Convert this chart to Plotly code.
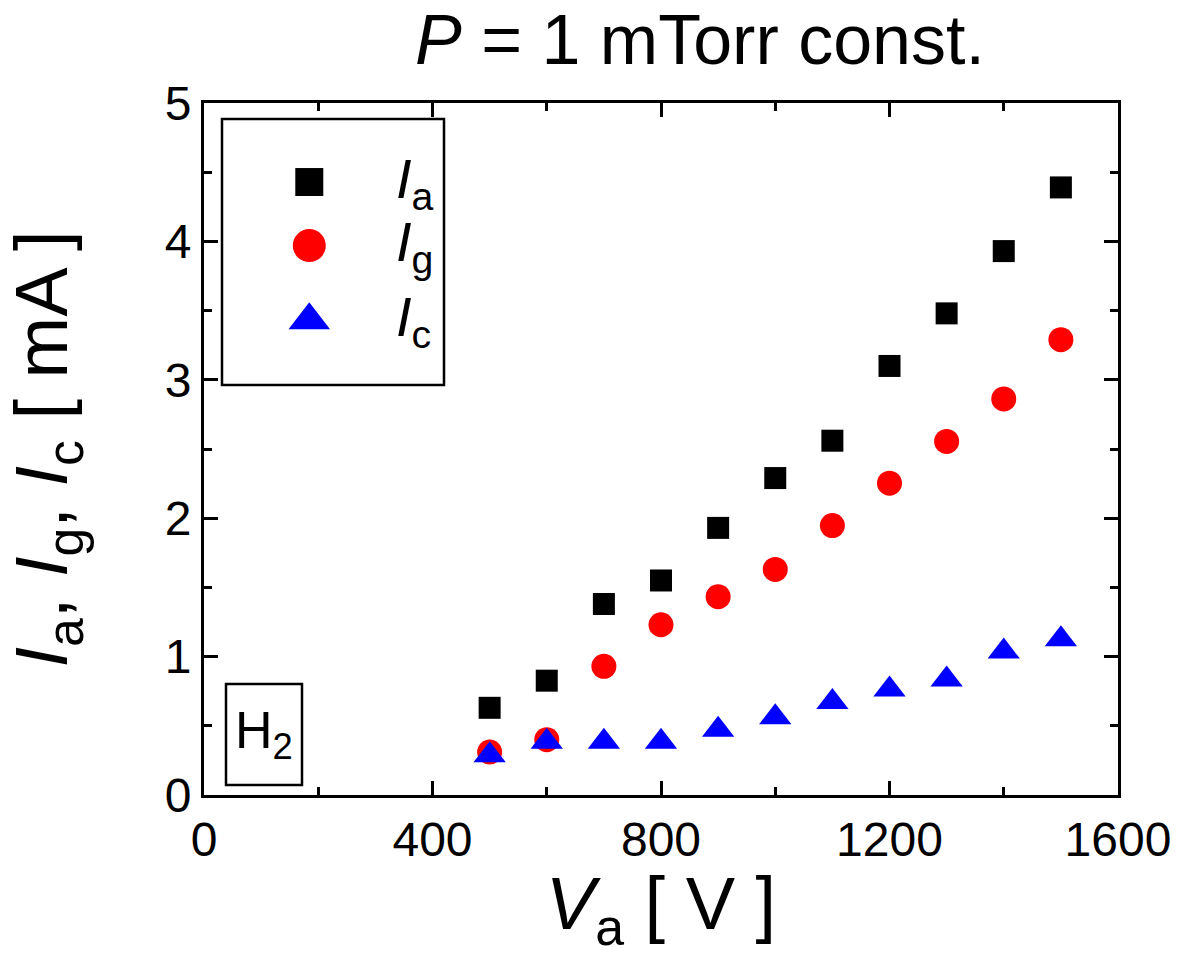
import plotly.graph_objects as go

# ---- data ----
va = [500, 600, 700, 800, 900, 1000, 1100, 1200, 1300, 1400, 1500]
i_a = [0.63, 0.826, 1.38, 1.55, 1.93, 2.29, 2.56, 3.10, 3.48, 3.93, 4.39]
i_g = [0.31, 0.40, 0.93, 1.23, 1.433, 1.63, 1.947, 2.253, 2.555, 2.862, 3.29]
i_c = [0.288, 0.384, 0.384, 0.384, 0.471, 0.562, 0.672, 0.762, 0.835, 1.036, 1.126]

x_ticks = [0, 400, 800, 1200, 1600]
y_ticks = [0, 1, 2, 3, 4, 5]

series_names = ["<i>I</i><sub>a</sub>", "<i>I</i><sub>g</sub>", "<i>I</i><sub>c</sub>"]
series_symbols = ["square", "circle", "triangle-up"]
series_colors = ["#000000", "#ff0000", "#0000ff"]
series_sizes = [22, 25, 28]
legend_sizes = [28, 33, 36]
legend_y = [0.8858, 0.794, 0.686]  # paper-fraction positions in legend box

FONT = "Liberation Sans, Arial, sans-serif"

fig = go.Figure()
for yv, sym, col, sz, nm in zip([i_a, i_g, i_c], series_symbols, series_colors, series_sizes, series_names):
    fig.add_trace(go.Scatter(x=va, y=yv, mode="markers", name=nm,
                             marker=dict(symbol=sym, color=col, size=sz, line=dict(width=0)),
                             showlegend=False))

# legend markers drawn on an overlay axis (0..1 over plot area)
for sym, col, sz, ly, nm in zip(series_symbols, series_colors, legend_sizes, legend_y, series_names):
    fig.add_trace(go.Scatter(x=[0.1152], y=[ly], xaxis="x2", yaxis="y2", mode="markers",
                             marker=dict(symbol=sym, color=col, size=sz, line=dict(width=0)),
                             showlegend=False, hoverinfo="skip"))
    fig.add_annotation(x=0.208, y=ly, xref="x2", yref="y2", text=nm, showarrow=False,
                       xanchor="left", yanchor="middle",
                       font=dict(family=FONT, size=56, color="black"))

axis_common = dict(showline=True, linecolor="black", linewidth=3, mirror="allticks",
                   ticks="inside", ticklen=14, tickwidth=2.5, tickcolor="black",
                   showgrid=False, zeroline=False,
                   tickfont=dict(family=FONT, size=48, color="black"))

fig.update_layout(
    width=1186, height=956,
    margin=dict(l=204, r=68, t=103, b=161),
    plot_bgcolor="white", paper_bgcolor="white",
    font=dict(family=FONT, color="black"),
    xaxis=dict(range=[0, 1600], tickvals=x_ticks,
               minor=dict(ticks="inside", ticklen=8, tickwidth=2.5, tickcolor="black", dtick=200),
               title=dict(text="<i>V</i><sub>a</sub> [ V ]", font=dict(family=FONT, size=74), standoff=6),
               **axis_common),
    yaxis=dict(range=[0, 5], tickvals=y_ticks,
               minor=dict(ticks="inside", ticklen=8, tickwidth=2.5, tickcolor="black", dtick=0.5),
               title=dict(text="<i>I</i><sub>a</sub>, <i>I</i><sub>g</sub>, <i>I</i><sub>c</sub> [ mA ]",
                          font=dict(family=FONT, size=74), standoff=74),
               **axis_common),
    xaxis2=dict(range=[0, 1], overlaying="x", visible=False, fixedrange=True),
    yaxis2=dict(range=[0, 1], overlaying="y", visible=False, fixedrange=True),
    showlegend=False,
)

# title
fig.add_annotation(x=(700 - 204) / 914, y=1.0, xref="paper", yref="paper", yshift=22,
                   text="<i>P</i> = 1 mTorr const.", showarrow=False,
                   xanchor="center", yanchor="bottom",
                   font=dict(family=FONT, size=70, color="black"))

# legend box
fig.add_shape(type="rect", xref="x2", yref="y2", x0=(222-204)/914, x1=(444-204)/914,
              y0=(795-385)/692, y1=(795-119)/692, line=dict(color="black", width=2.5))

# H2 label box
fig.add_annotation(x=(264-204)/914, y=(795-734)/692, xref="x2", yref="y2",
                   text="H<sub>2</sub>", showarrow=False, xanchor="center", yanchor="middle",
                   font=dict(family=FONT, size=52, color="black"))
fig.add_shape(type="rect", xref="x2", yref="y2", x0=(226-204)/914, x1=(302-204)/914,
              y0=(795-785)/692, y1=(795-684)/692, line=dict(color="black", width=2.5))

fig.write_html("out.html")
